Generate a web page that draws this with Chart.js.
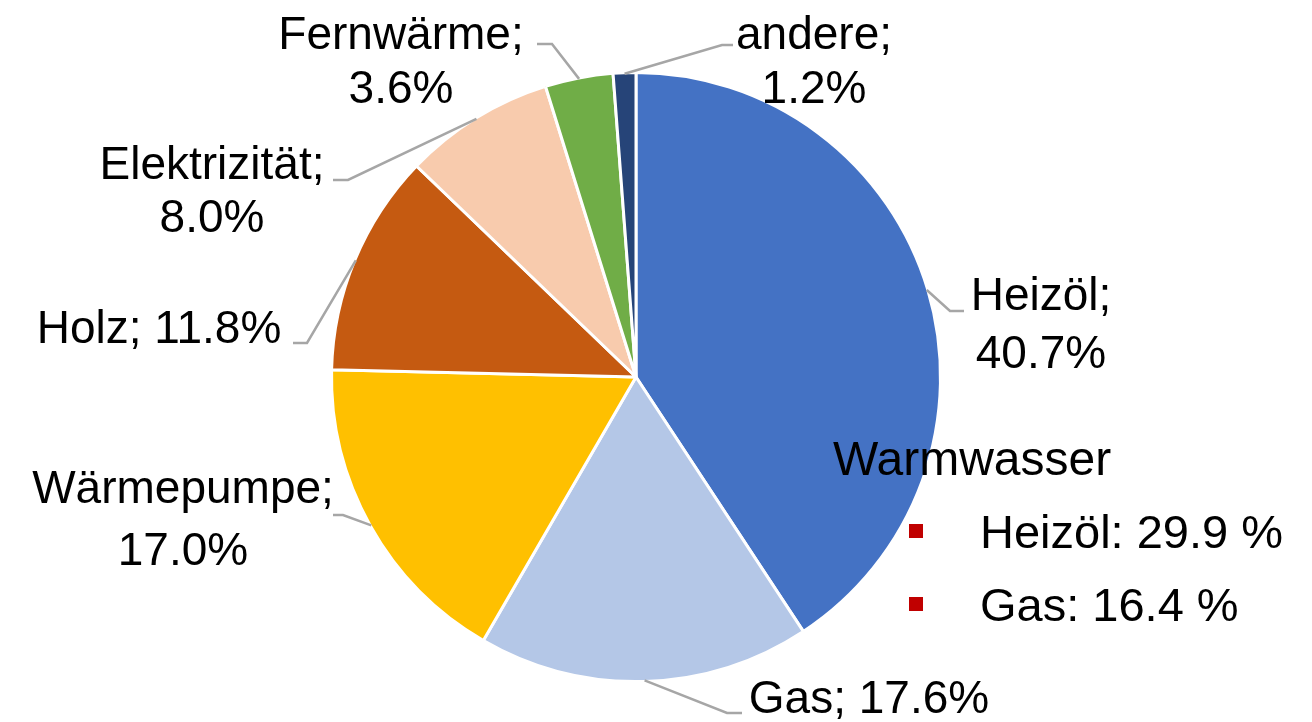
<!DOCTYPE html>
<html>
<head>
<meta charset="utf-8">
<script src="https://cdn.jsdelivr.net/npm/chart.js@4"></script>
<style>
  html, body { margin: 0; padding: 0; background: #fff; }
  canvas { display: block; }
</style>
</head>
<body>
<canvas id="pieChart" width="1312" height="722"></canvas>
<script>
// data
const categories = ['Heizöl', 'Gas', 'Wärmepumpe', 'Holz', 'Elektrizität', 'Fernwärme', 'andere'];
const shares = [40.7, 17.6, 17.0, 11.8, 8.0, 3.6, 1.2];
const colors = ['#4472C4', '#B4C7E7', '#FFC000', '#C55A11', '#F8CBAD', '#70AD47', '#264478'];

const warmwasserTitle = 'Warmwasser';
const warmwasserCategories = ['Heizöl', 'Gas'];
const warmwasserShares = [29.9, 16.4];

// label placement (pixels): text centre x, baselines, leader elbow and end
const labelLayout = [
    { cx: 1041, baselines: [310, 368], split: true, elbow: [950, 311], end: [964, 311] },
    { cx: 869, baselines: [713], split: false, elbow: [727, 713], end: [742, 713] },
    { cx: 183, baselines: [503, 565], split: true, elbow: [343, 515], end: [333, 515] },
    { cx: 159, baselines: [343], split: false, elbow: [307, 343], end: [293, 343] },
    { cx: 212, baselines: [179, 232], split: true, elbow: [348, 180], end: [333, 180] },
    { cx: 401, baselines: [49, 103], split: true, elbow: [552, 44], end: [537, 44] },
    { cx: 814, baselines: [49, 103], split: true, elbow: [722, 45], end: [733, 45] }
];

const FONT = '"Liberation Sans", Arial, sans-serif';

// draws the data labels with leader lines and the Warmwasser note
const labelPlugin = {
    id: 'pieLabels',
    afterDraw(chart) {
        const ctx = chart.ctx;
        const arcs = chart.getDatasetMeta(0).data;
        ctx.save();

        arcs.forEach((arc, i) => {
            const p = arc.getProps(['x', 'y', 'startAngle', 'endAngle', 'outerRadius'], true);
            const mid = (p.startAngle + p.endAngle) / 2;
            const r = p.outerRadius - 1;
            const sx = p.x + Math.cos(mid) * r;
            const sy = p.y + Math.sin(mid) * r;
            const lay = labelLayout[i];

            ctx.strokeStyle = '#A6A6A6';
            ctx.lineWidth = 2.5;
            ctx.beginPath();
            ctx.moveTo(sx, sy);
            ctx.lineTo(lay.elbow[0], lay.elbow[1]);
            ctx.lineTo(lay.end[0], lay.end[1]);
            ctx.stroke();

            const valueText = shares[i].toFixed(1) + '%';
            const lines = lay.split ? [categories[i] + ';', valueText] : [categories[i] + '; ' + valueText];
            ctx.fillStyle = '#000';
            ctx.font = '46px ' + FONT;
            ctx.textAlign = 'center';
            ctx.textBaseline = 'alphabetic';
            lines.forEach((t, k) => ctx.fillText(t, lay.cx, lay.baselines[k]));
        });

        // Warmwasser box
        ctx.textAlign = 'left';
        ctx.fillStyle = '#000';
        ctx.font = '48px ' + FONT;
        ctx.fillText(warmwasserTitle, 833, 475);
        ctx.font = '47px ' + FONT;
        warmwasserCategories.forEach((c, k) => {
            const base = 548 + k * 73;
            ctx.fillStyle = '#C00000';
            ctx.fillRect(909, base - 24, 14, 14);
            ctx.fillStyle = '#000';
            ctx.fillText(c + ': ' + warmwasserShares[k].toFixed(1) + ' %', 980, base);
        });

        ctx.restore();
    }
};

const ctx = document.getElementById('pieChart').getContext('2d');
new Chart(ctx, {
    type: 'pie',
    data: {
        labels: categories,
        datasets: [{
            data: shares,
            backgroundColor: colors,
            borderColor: '#ffffff',
            borderWidth: 3
        }]
    },
    options: {
        responsive: false,
        animation: false,
        layout: {
            padding: { left: 330, right: 370, top: 71, bottom: 39 }
        },
        plugins: {
            legend: { display: false },
            tooltip: { enabled: false }
        }
    },
    plugins: [labelPlugin]
});
</script>
</body>
</html>
